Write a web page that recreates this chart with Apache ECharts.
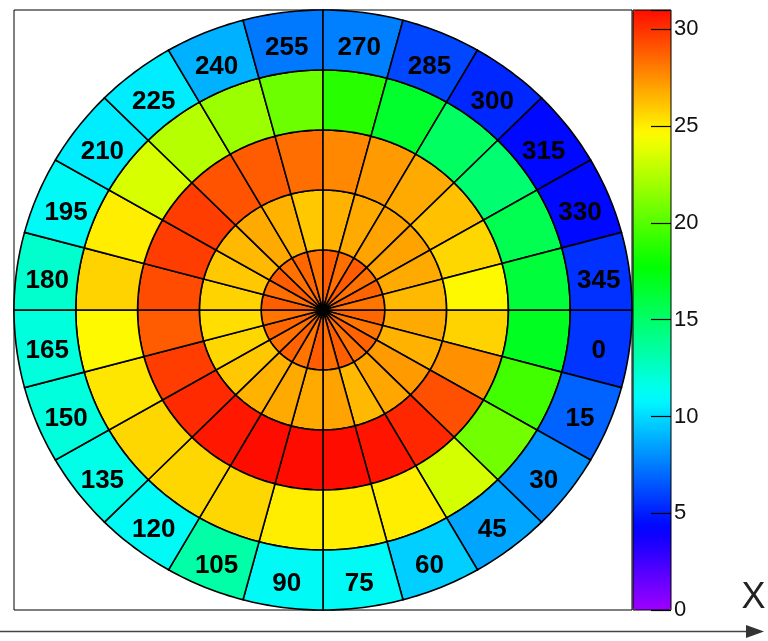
<!DOCTYPE html>
<html>
<head>
<meta charset="utf-8">
<script src="https://cdn.jsdelivr.net/npm/echarts@6/dist/echarts.min.js"></script>
<style>
  html, body { margin: 0; padding: 0; background: #fff; }
  #chart { width: 768px; height: 641px; }
</style>
</head>
<body>
<div id="chart"></div>
<script>
// Angular sectors (degrees, clockwise from +X), one label per sector
const sectorLabels = ['0', '15', '30', '45', '60', '75', '90', '105', '120', '135', '150', '165',
                      '180', '195', '210', '225', '240', '255', '270', '285', '300', '315', '330', '345'];
const sectorWidthDeg = 15;

// Radial ring edges
const ringEdges = [0, 1, 2, 3, 4, 5];

// Cell contents, one array per ring (innermost first), indexed by sector
const ring0 = [28.6, 28.2, 28.7, 28.3, 28.8, 28.4, 28.9, 28.2, 28.7, 28.3, 28.6, 28.2,
               28.8, 28.4, 28.9, 28.3, 28.6, 28.2, 28.8, 28.4, 28.9, 28.3, 28.7, 28.2];
const ring1 = [26.8, 26.6, 27.2, 26.9, 26.4, 27.0, 26.8, 26.8, 26.6, 26.0, 25.6, 25.4,
               25.7, 26.0, 26.4, 26.8, 26.6, 26.0, 26.6, 26.8, 27.0, 27.0, 26.8, 26.4];
const ring2 = [25.7, 27.5, 29.2, 30.3, 30.8, 31.0, 31.0, 31.0, 30.7, 30.2, 29.7, 28.9,
               29.3, 29.7, 29.7, 29.1, 28.9, 28.4, 27.7, 27.2, 26.8, 26.2, 25.6, 24.7];
const ring3 = [16.9, 19.5, 20.8, 23.4, 25.0, 25.0, 25.0, 25.6, 25.6, 25.6, 25.2, 24.7,
               25.7, 25.0, 23.5, 22.6, 21.9, 20.6, 18.8, 16.6, 15.2, 14.8, 15.6, 16.2];
const ring4 = [5.6, 6.8, 8.0, 8.6, 9.7, 11.1, 11.1, 13.3, 11.1, 11.6, 11.9, 11.9,
               12.3, 11.1, 10.5, 10.5, 8.9, 7.4, 7.6, 6.1, 5.25, 4.4, 4.4, 5.5];

// Colour scale range and tick spacing
const zMin = 0;
const zMax = 31;
const zTickInterval = 5;

const FONT = '"Liberation Sans", Arial, Helvetica, sans-serif';

// Rainbow palette: 50 hues from violet (280) down to red (0)
function hslToHex(h, s, l) {
  const c = (1 - Math.abs(2 * l - 1)) * s;
  const hp = h / 60;
  const x = c * (1 - Math.abs((hp % 2) - 1));
  let r = 0, g = 0, b = 0;
  if (hp < 1) { r = c; g = x; }
  else if (hp < 2) { r = x; g = c; }
  else if (hp < 3) { g = c; b = x; }
  else if (hp < 4) { g = x; b = c; }
  else if (hp < 5) { r = x; b = c; }
  else { r = c; b = x; }
  const m = l - c / 2;
  const toHex = v => Math.round((v + m) * 255).toString(16).padStart(2, '0');
  return '#' + toHex(r) + toHex(g) + toHex(b);
}
const palette = [];
for (let i = 0; i < 50; i++) palette.push(hslToHex(280 - (i + 0.5) * 280 / 50, 1, 0.5));

// Flatten rings into [ring, sector, value] records
const rings = [ring0, ring1, ring2, ring3, ring4];
const cells = [];
rings.forEach((vals, r) => vals.forEach((v, s) => cells.push([r, s, v])));

function arcPoint(api, r, deg) {
  const a = deg * Math.PI / 180;
  return api.coord([r * Math.cos(a), -r * Math.sin(a)]);
}

function renderCell(params, api) {
  const ring = api.value(0);
  const sector = api.value(1);
  const r0 = ringEdges[ring];
  const r1 = ringEdges[ring + 1];
  const a0 = sector * sectorWidthDeg;
  const a1 = a0 + sectorWidthDeg;
  const steps = 16;
  const pts = [];
  for (let i = 0; i <= steps; i++) pts.push(arcPoint(api, r1, a0 + (a1 - a0) * i / steps));
  if (r0 === 0) {
    pts.push(api.coord([0, 0]));
  } else {
    for (let i = steps; i >= 0; i--) pts.push(arcPoint(api, r0, a0 + (a1 - a0) * i / steps));
  }
  return {
    type: 'polygon',
    shape: { points: pts },
    style: { fill: api.visual('color'), stroke: '#000', lineWidth: 1.6 }
  };
}

function renderLabel(params, api) {
  const sector = api.value(0);
  const mid = sector * sectorWidthDeg + sectorWidthDeg / 2;
  const rLab = (ringEdges[4] + ringEdges[5]) / 2;
  const p = arcPoint(api, rLab, mid);
  return {
    type: 'text',
    x: p[0],
    y: p[1] + 6,
    style: {
      text: sectorLabels[sector],
      fill: '#000',
      font: 'bold 26px ' + FONT,
      align: 'center', verticalAlign: 'middle',
      textAlign: 'center', textVerticalAlign: 'middle'
    }
  };
}

const chart = echarts.init(document.getElementById('chart'), null, { renderer: 'canvas' });

const option = {
  animation: false,
  backgroundColor: '#fff',
  grid: [
    // polar cell frame
    { left: 14, top: 10, width: 618, height: 600, show: true, borderColor: '#000', borderWidth: 1, backgroundColor: '#fff' },
    // colour bar frame
    { left: 633, top: 10, width: 38, height: 600, show: true, borderColor: '#000', borderWidth: 1, backgroundColor: 'transparent', z: 10 },
    // colour bar tick strip (right part of the bar)
    { left: 651, top: 10, width: 20, height: 600, show: false, z: 10 }
  ],
  xAxis: [
    { gridIndex: 0, type: 'value', min: -5, max: 5, show: false },
    { gridIndex: 1, type: 'value', min: 0, max: 1, show: false },
    { gridIndex: 2, type: 'value', min: 0, max: 1, show: false }
  ],
  yAxis: [
    { gridIndex: 0, type: 'value', min: -5, max: 5, show: false },
    {
      gridIndex: 1, type: 'value', min: zMin, max: zMax, interval: zTickInterval,
      position: 'right', z: 10,
      axisLine: { show: false },
      axisTick: { show: false },
      axisLabel: { fontSize: 22, color: '#111', margin: 3, fontFamily: FONT, showMaxLabel: false },
      splitLine: { show: false }
    },
    {
      gridIndex: 2, type: 'value', min: zMin, max: zMax, interval: zTickInterval,
      position: 'right', z: 10,
      axisLine: { show: false },
      axisTick: { show: false },
      axisLabel: { show: false },
      splitLine: { show: true, lineStyle: { color: '#000', width: 1.2 } }
    }
  ],
  visualMap: {
    type: 'continuous',
    min: zMin, max: zMax,
    dimension: 2,
    seriesIndex: 0,
    inRange: { color: palette },
    orient: 'vertical',
    left: 633, top: 10,
    itemWidth: 38, itemHeight: 600,
    padding: 0,
    calculable: false,
    hoverLink: false,
    text: null,
    z: 4
  },
  graphic: [
    { type: 'line', shape: { x1: 0, y1: 631.5, x2: 750, y2: 631.5 }, style: { stroke: '#444', lineWidth: 1.6 } },
    { type: 'polygon', shape: { points: [[746, 625], [764, 631.5], [746, 638]] }, style: { fill: '#333' } },
    {
      type: 'text', x: 753.5, y: 598.5,
      style: {
        text: 'X', fill: '#222', font: '36px ' + FONT,
        align: 'center', verticalAlign: 'middle', textAlign: 'center', textVerticalAlign: 'middle'
      }
    }
  ],
  series: [
    {
      type: 'custom',
      coordinateSystem: 'cartesian2d',
      xAxisIndex: 0, yAxisIndex: 0,
      renderItem: renderCell,
      data: cells,
      z: 2
    },
    {
      type: 'custom',
      coordinateSystem: 'cartesian2d',
      xAxisIndex: 0, yAxisIndex: 0,
      renderItem: renderLabel,
      data: sectorLabels.map((_, i) => [i]),
      z: 5
    }
  ]
};

chart.setOption(option);
</script>
</body>
</html>
